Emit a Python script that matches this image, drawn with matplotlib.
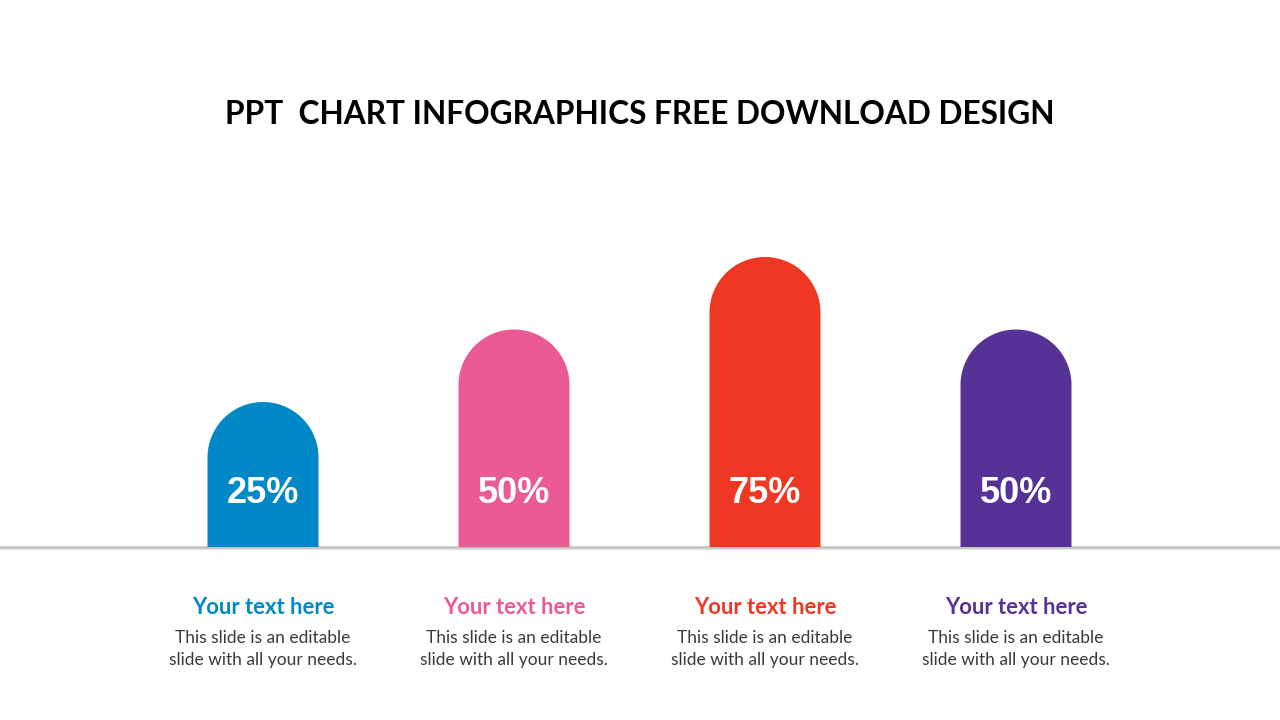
import numpy as np
import matplotlib
matplotlib.use('Agg')
import matplotlib.pyplot as plt
from matplotlib.patches import Polygon

# chart data
labels = ['25%', '50%', '75%', '50%']
values = [25, 50, 75, 50]
colors = ['#0089C6', '#EA5B96', '#EE3824', '#573296']
heads = ['Your text here'] * 4
body = 'This slide is an editable\nslide with all your needs.'
title = 'PPT  CHART INFOGRAPHICS FREE DOWNLOAD DESIGN'

W, H = 1280, 720
fig = plt.figure(figsize=(12.8, 7.2), dpi=100)
fig.patch.set_facecolor('white')

# pixel-space overlay for text and baseline
ax_txt = fig.add_axes([0, 0, 1, 1])
ax_txt.set_xlim(0, W)
ax_txt.set_ylim(H, 0)
ax_txt.axis('off')

# bar axes: bottom at the baseline, 2.9 px per unit, 251 px per category
BASE = 547
TOP = 180
PX_Y = 2.9
PX_X = 251.0
X0 = 263
ax = fig.add_axes([0, (H - BASE) / H, 1, (BASE - TOP) / H])
ymin = -25
ax.set_ylim(ymin, ymin + (BASE - TOP) / PX_Y)
ax.set_xlim(-X0 / PX_X, (W - X0) / PX_X)
ax.axis('off')

half_w = 55.5 / PX_X
ry = 55.5 / PX_Y
for i, (v, c, lab) in enumerate(zip(values, colors, labels)):
    cy = v - ry
    th = np.linspace(0, np.pi, 80)
    arc = np.column_stack([i + half_w * np.cos(th), cy + ry * np.sin(th)])
    pts = np.vstack([[i + half_w, ymin], arc, [i - half_w, ymin]])
    ax.add_patch(Polygon(pts, closed=True, facecolor=c, edgecolor='none', zorder=2))
    ax.text(i, -6.6, lab, color='white', fontsize=26, fontweight='bold',
            family='Liberation Sans', ha='center', va='center', zorder=3)

# baseline with soft shadow
ax_txt.axhline(BASE, color='#BDBDBD', lw=1.8, zorder=5, alpha=0.9)
ax_txt.axhline(BASE + 2, color='#E6E6E6', lw=1.5, zorder=4)

ax_txt.text(W / 2, 114, title, fontsize=22.8, fontweight='bold', family='Lato',
            ha='center', va='center', color='black')

for i, (h, c) in enumerate(zip(heads, colors)):
    x = X0 + i * PX_X
    ax_txt.text(x, 607.5, h, fontsize=15.8, fontweight='bold', family='Lato',
                ha='center', va='center', color=c)
    ax_txt.text(x, 649, body, fontsize=12.5, family='Lato', ha='center',
                va='center', color='#3A3A3A', linespacing=1.5)

fig.savefig('out.png', dpi=100, facecolor='white')
